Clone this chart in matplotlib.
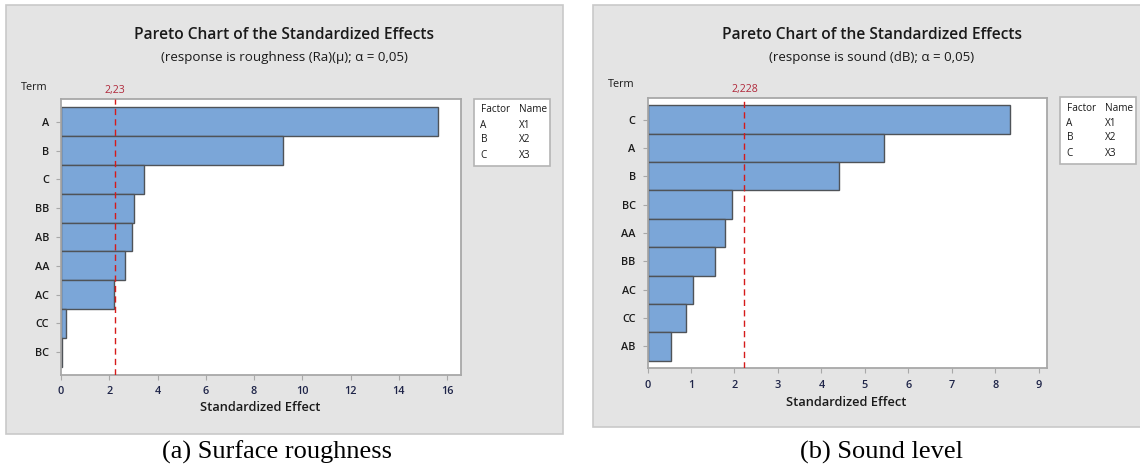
import matplotlib
matplotlib.use("Agg")
import matplotlib.pyplot as plt
from matplotlib.patches import Rectangle

# Standardized effects, roughness model (Ra)
terms_ra = ["A", "B", "C", "BB", "AB", "AA", "AC", "CC", "BC"]
effects_ra = [15.64, 9.19, 3.44, 3.03, 2.94, 2.67, 2.20, 0.20, 0.05]
crit_ra = 2.23
crit_ra_label = "2,23"
xticks_ra = [0, 2, 4, 6, 8, 10, 12, 14, 16]

# Standardized effects, sound level model (dB)
terms_db = ["C", "A", "B", "BC", "AA", "BB", "AC", "CC", "AB"]
effects_db = [8.34, 5.43, 4.41, 1.94, 1.79, 1.56, 1.04, 0.89, 0.53]
crit_db = 2.228
crit_db_label = "2,228"
xticks_db = [0, 1, 2, 3, 4, 5, 6, 7, 8, 9]

factors = ["A", "B", "C"]
factor_names = ["X1", "X2", "X3"]

W, H = 1140, 465
SANS = "Open Sans"
BG = "#E4E4E4"
BAR = "#7BA6D8"
BAR_EDGE = "#4F5358"
SPINE = "#A8A8A8"
TXT = "#1A1A1A"
RED = "#D51A1A"

fig = plt.figure(figsize=(W / 100, H / 100), dpi=100)
fig.patch.set_facecolor("white")


def fx(px):
    return px / W


def fy(py):
    return 1 - py / H


def ftext(x, y, s, **kw):
    kw.setdefault("family", SANS)
    kw.setdefault("color", TXT)
    fig.text(fx(x), fy(y), s, **kw)


def panel(box, ax_box, terms, effects, crit, crit_label, xticks, xmax,
          title_x, sub, term_xy, leg_box, xlabel_xy, caption, cap_x):
    bx0, by0, bx1, by1 = box
    fig.patches.append(Rectangle((fx(bx0), fy(by1)), fx(bx1 - bx0), (by1 - by0) / H,
                                 transform=fig.transFigure, facecolor=BG,
                                 edgecolor="#C9C9C9", lw=1.2, zorder=-2))
    ax0, ay0, ax1, ay1 = ax_box
    ax = fig.add_axes([fx(ax0), fy(ay1), fx(ax1 - ax0), (ay1 - ay0) / H])
    ax.set_facecolor("white")
    n = len(terms)
    pos = list(range(n))
    ax.barh(pos, effects, height=1.0, color=BAR, edgecolor=BAR_EDGE, lw=1.0,
            zorder=2)
    ax.axvline(crit, color=RED, lw=1.0, ls=(0, (4.5, 3)), zorder=3)
    ax.set_xlim(0, xmax)
    ax.set_ylim(n - 0.5 + 0.27, -0.5 - 0.27)
    ax.set_yticks(pos)
    ax.set_yticklabels(terms, family=SANS, fontsize=7.8, color=TXT,
                       weight="semibold")
    ax.set_xticks(xticks)
    ax.set_xticklabels([str(t) for t in xticks], family=SANS, fontsize=7.8,
                       color="#1E2448", weight="semibold")
    ax.tick_params(axis="both", length=3.5, width=0.8, color=SPINE, pad=5)
    for sp in ax.spines.values():
        sp.set_color(SPINE)
        sp.set_linewidth(1.3)

    # critical value label, just above the top spine
    ax.text(crit, 1.0 + 3 / (ay1 - ay0), crit_label,
            transform=ax.get_xaxis_transform(), ha="center", va="bottom",
            fontsize=7.6, color="#B0283A", family=SANS)

    ftext(title_x, 35, "Pareto Chart of the Standardized Effects",
          ha="center", va="center", fontsize=11.2, weight="semibold")
    ftext(title_x, 57, sub, ha="center", va="center", fontsize=9.6)
    ftext(term_xy[0], term_xy[1], "Term", ha="left", va="center", fontsize=7.8)
    ftext(xlabel_xy[0], xlabel_xy[1], "Standardized Effect", ha="center",
          va="center", fontsize=9.3, weight="semibold")

    lx0, ly0, lx1, ly1 = leg_box
    fig.patches.append(Rectangle((fx(lx0), fy(ly1)), fx(lx1 - lx0), (ly1 - ly0) / H,
                                 transform=fig.transFigure, facecolor="white",
                                 edgecolor="#B4B4B4", lw=1.2, zorder=1))
    ftext(lx0 + 7, ly0 + 11, "Factor", ha="left", va="center", fontsize=7.2)
    ftext(lx0 + 45, ly0 + 11, "Name", ha="left", va="center", fontsize=7.2)
    for i, (f, nme) in enumerate(zip(factors, factor_names)):
        yy = ly0 + 26 + 15 * i
        ftext(lx0 + 7, yy, f, ha="left", va="center", fontsize=7.2)
        ftext(lx0 + 45, yy, nme, ha="left", va="center", fontsize=7.2)

    fig.text(fx(cap_x), fy(452), caption, ha="center", va="center",
             family="Liberation Serif", fontsize=19, color="black")


panel(box=(6, 5, 563, 434), ax_box=(61, 99.5, 461, 374.5),
      terms=terms_ra, effects=effects_ra, crit=crit_ra, crit_label=crit_ra_label,
      xticks=xticks_ra, xmax=16.58, title_x=284.5,
      sub="(response is roughness (Ra)(\u03bc); \u03b1 = 0,05)",
      term_xy=(21, 87), leg_box=(473.5, 99, 550, 166), xlabel_xy=(260, 407),
      caption="(a) Surface roughness", cap_x=277)

panel(box=(593, 5, 1145, 427), ax_box=(647.5, 97.7, 1046.7, 368.3),
      terms=terms_db, effects=effects_db, crit=crit_db, crit_label=crit_db_label,
      xticks=xticks_db, xmax=9.18, title_x=871.5,
      sub="(response is sound (dB); \u03b1 = 0,05)",
      term_xy=(608, 84.5), leg_box=(1059.5, 97, 1136, 164), xlabel_xy=(846.5, 402),
      caption="(b) Sound level", cap_x=881)

fig.savefig("out.png", dpi=100, facecolor="white")
